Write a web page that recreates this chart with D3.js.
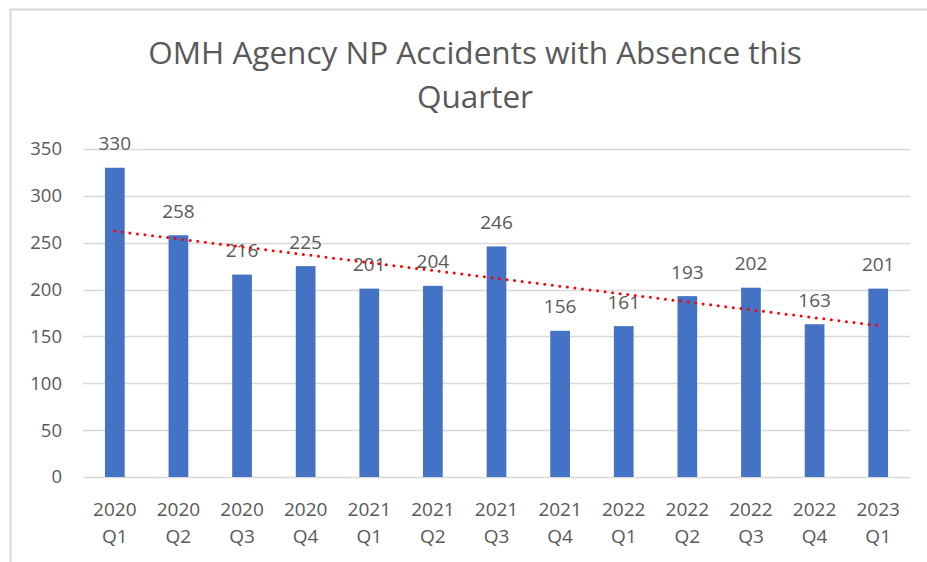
<!DOCTYPE html>
<html>
<head>
<meta charset="utf-8">
<script src="https://cdn.jsdelivr.net/npm/d3@7"></script>
<style>
  body { margin: 0; background: #fff; }
  text { font-family: "Open Sans", "Noto Sans", sans-serif; fill: #595959; }
</style>
</head>
<body>
<div id="chart"></div>
<script>
// chart values
var years = ["2020","2020","2020","2020","2021","2021","2021","2021","2022","2022","2022","2022","2023"];
var quarters = ["Q1","Q2","Q3","Q4","Q1","Q2","Q3","Q4","Q1","Q2","Q3","Q4","Q1"];
var accidents = [330, 258, 216, 225, 201, 204, 246, 156, 161, 193, 202, 163, 201];
var yTicks = [0, 50, 100, 150, 200, 250, 300, 350];
var titleLines = ["OMH Agency NP Accidents with Absence this", "Quarter"];

var W = 927, H = 562;
var margin = {top: 149, right: 17, bottom: 85, left: 83},
    width = W - margin.left - margin.right,
    height = H - margin.top - margin.bottom;

var root = d3.select("#chart")
  .append("svg")
    .attr("width", W)
    .attr("height", H);

// chart frame (cropped on right/bottom)
root.append("path")
  .attr("d", "M10.5," + H + "V9.5H" + W)
  .attr("fill", "none")
  .attr("stroke", "#d9d9d9")
  .attr("stroke-width", 2);

// title
root.append("g")
  .selectAll("text")
  .data(titleLines)
  .enter()
  .append("text")
    .attr("x", 475)
    .attr("y", function (d, i) { return 64 + i * 44; })
    .attr("text-anchor", "middle")
    .style("font-size", "31.5px")
    .text(d => d);

var svg = root.append("g")
  .attr("transform", "translate(" + margin.left + "," + margin.top + ")");

var idx = d3.range(accidents.length);

var x = d3.scaleBand()
  .domain(idx)
  .range([0, width])
  .paddingInner(0.69)
  .paddingOuter(0.345);

var y = d3.scaleLinear()
  .domain([0, 350])
  .range([height, 0]);

// gridlines
svg.append("g")
  .selectAll("line")
  .data(yTicks)
  .enter()
  .append("line")
    .attr("x1", 0)
    .attr("x2", width)
    .attr("y1", d => Math.round(y(d)) + 0.5)
    .attr("y2", d => Math.round(y(d)) + 0.5)
    .attr("stroke", "#d9d9d9")
    .attr("stroke-width", 1.5);

// y axis labels
var yAxis = svg.append("g")
  .call(d3.axisLeft(y).tickValues(yTicks).tickSize(0).tickPadding(21));
yAxis.select(".domain").remove();
yAxis.selectAll("text")
  .attr("fill", "#595959")
  .style("font-size", "18.5px")
  .style("font-family", "\"Open Sans\", sans-serif");

// x axis labels (two lines)
var xAxis = svg.append("g")
  .attr("transform", "translate(0," + height + ")")
  .call(d3.axisBottom(x).tickSize(0).tickFormat(""));
xAxis.select(".domain").remove();
xAxis.selectAll(".tick").each(function (d) {
  var t = d3.select(this).append("text")
    .attr("text-anchor", "middle")
    .style("font-size", "19px");
  t.append("tspan").attr("x", 0).attr("y", 38.5).text(years[d]);
  t.append("tspan").attr("x", 0).attr("y", 66).text(quarters[d]);
});

// bars
svg.append("g")
  .selectAll("rect")
  .data(accidents)
  .enter()
  .append("rect")
    .attr("x", (d, i) => x(i))
    .attr("y", d => y(d))
    .attr("width", x.bandwidth())
    .attr("height", d => height - y(d))
    .attr("fill", "#4472c4");

// value labels
svg.append("g")
  .selectAll("text")
  .data(accidents)
  .enter()
  .append("text")
    .attr("x", (d, i) => x(i) + x.bandwidth() / 2)
    .attr("y", d => y(d) - 17.5)
    .attr("text-anchor", "middle")
    .style("font-size", "19px")
    .text(d => d);

// linear trendline (least squares fit of the bars)
var n = accidents.length;
var mx = d3.mean(idx), my = d3.mean(accidents);
var sxy = d3.sum(idx, i => (i - mx) * (accidents[i] - my));
var sxx = d3.sum(idx, i => (i - mx) * (i - mx));
var slope = sxy / sxx, icpt = my - slope * mx;
var trend = [0, n - 1].map(i => [x(i) + x.bandwidth() / 2, y(icpt + slope * i)]);

svg.append("path")
  .attr("d", d3.line()(trend))
  .attr("fill", "none")
  .attr("stroke", "#ff0000")
  .attr("stroke-width", 3)
  .attr("stroke-linecap", "round")
  .attr("stroke-dasharray", "0,7.6");
</script>
</body>
</html>
